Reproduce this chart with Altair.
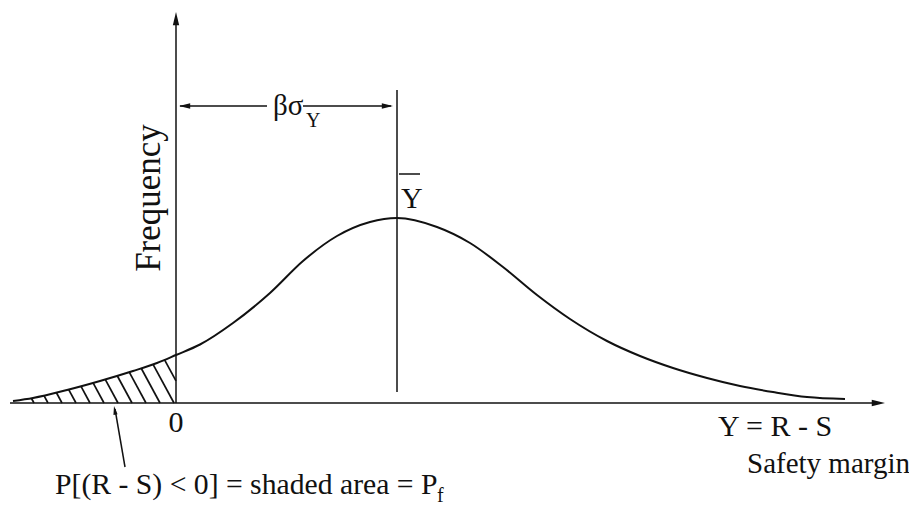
import altair as alt
import pandas as pd
import numpy as np

# ---- data (x: safety margin Y = R - S, y: frequency) ----
curve_x = [-1.63, -1.43, -1.09, -0.76, -0.43, -0.19, 0.00, 0.24, 0.57, 0.94, 1.27, 1.61, 1.94,
           2.21, 2.61, 2.94, 3.27, 3.61, 3.94, 4.31, 4.64, 4.97, 5.31, 5.64, 5.97, 6.31, 6.69]
curve_y = [0.02, 0.05, 0.13, 0.22, 0.32, 0.40, 0.48, 0.585, 0.80, 1.10, 1.42, 1.67, 1.81,
           1.85, 1.76, 1.60, 1.36, 1.08, 0.84, 0.62, 0.47, 0.35, 0.25, 0.17, 0.11, 0.06, 0.04]
mean_y = 2.21          # Y-bar
x_axis_end = 7.09
y_axis_end = 3.91
dim_level = 2.97       # level of the beta*sigma dimension line

# ---- scales ----
XS = alt.Scale(domain=[-1.68, 7.33], nice=False, zero=False)
YS = alt.Scale(domain=[-1.08, 3.95], nice=False, zero=False)
INK = "#111111"
FONT = "Liberation Serif"

def X(f="x"):
    return alt.X(f + ":Q", scale=XS, axis=None)

def Y(f="y"):
    return alt.Y(f + ":Q", scale=YS, axis=None)

# ---- curve ----
curve_df = pd.DataFrame({"x": curve_x, "y": curve_y})
curve = alt.Chart(curve_df).mark_line(interpolate="monotone", color=INK, strokeWidth=2).encode(
    x=X(), y=Y())

# ---- hatching of the failure region (Y < 0), derived from the curve ----
slope = 1.85
spacing = 0.14
cx = np.array(curve_x)
cy = np.array(curve_y)
grid = np.linspace(cx[0], 0.0, 3000)
fgrid = np.interp(grid, cx, cy)
h_at0 = float(np.interp(0.0, cx, cy))
rows = []
for c in np.arange(1.94, -1.5, -spacing):
    if c <= 0:
        xb, yb = c, 0.0
    else:
        xb, yb = 0.0, c * slope
        if yb >= h_at0:
            continue
    mask = grid <= xb
    g = grid[mask][::-1]
    fg = fgrid[mask][::-1]
    line_h = yb + slope * (xb - g)
    hit = np.where(line_h >= fg)[0]
    if len(hit) == 0:
        continue
    i = hit[0]
    rows.append({"x": xb, "y": yb, "x2": float(g[i]), "y2": float(fg[i])})
hatch_df = pd.DataFrame(rows)
hatch = alt.Chart(hatch_df).mark_rule(color=INK, strokeWidth=1.7).encode(
    x=X(), y=Y(), x2="x2:Q", y2="y2:Q")

# ---- construction lines ----
lines_df = pd.DataFrame([
    {"x": -1.66, "y": 0.0, "x2": x_axis_end - 0.05, "y2": 0.0},          # x axis
    {"x": 0.0, "y": 0.0, "x2": 0.0, "y2": y_axis_end - 0.05},            # y axis
    {"x": mean_y, "y": 0.11, "x2": mean_y, "y2": 3.13},                   # mean line
    {"x": 0.04, "y": dim_level, "x2": 0.91, "y2": dim_level},             # dimension, left part
    {"x": 1.27, "y": dim_level, "x2": mean_y - 0.06, "y2": dim_level},    # dimension, right part
    {"x": -0.51, "y": -0.64, "x2": -0.61, "y2": -0.06},                   # pointer to shaded area
    {"x": 2.23, "y": 2.29, "x2": 2.44, "y2": 2.29},                       # bar over Y
])
lines = alt.Chart(lines_df).mark_rule(color=INK, strokeWidth=1.5).encode(
    x=X(), y=Y(), x2="x2:Q", y2="y2:Q")

# ---- arrow heads ----
RIGHT = "M0,0L-1,-0.24L-1,0.24Z"
LEFT = "M0,0L1,-0.24L1,0.24Z"
UP = "M0,0L-0.24,1L0.24,1Z"
heads_df = pd.DataFrame([
    {"x": x_axis_end, "y": 0.0, "shape": RIGHT, "angle": 0, "size": 700},
    {"x": 0.0, "y": y_axis_end, "shape": UP, "angle": 0, "size": 700},
    {"x": 0.03, "y": dim_level, "shape": LEFT, "angle": 0, "size": 500},
    {"x": mean_y - 0.04, "y": dim_level, "shape": RIGHT, "angle": 0, "size": 500},
    {"x": -0.62, "y": -0.03, "shape": UP, "angle": 350, "size": 300},
])
heads = alt.Chart(heads_df).mark_point(filled=True, color=INK, opacity=1, strokeWidth=0).encode(
    x=X(), y=Y(),
    shape=alt.Shape("shape:N", scale=None),
    angle=alt.Angle("angle:Q", scale=None),
    size=alt.Size("size:Q", scale=None))

# ---- texts ----
left_txt_df = pd.DataFrame([
    {"x": 5.42, "y": -0.33, "t": "Y = R - S", "s": 30},
    {"x": 5.71, "y": -0.70, "t": "Safety margin", "s": 29},
    {"x": -1.21, "y": -0.91, "t": "P[(R - S) < 0] = shaded area = P", "s": 29.7},
    {"x": 2.61, "y": -0.99, "t": "f", "s": 20},
    {"x": 0.97, "y": 2.88, "t": "βσ", "s": 29},
    {"x": 1.30, "y": 2.76, "t": "Y", "s": 20},
    {"x": 2.25, "y": 1.95, "t": "Y", "s": 30},
])
left_txt = alt.Chart(left_txt_df).mark_text(
    align="left", baseline="alphabetic", font=FONT, color=INK).encode(
    x=X(), y=Y(), text="t:N", size=alt.Size("s:Q", scale=None))

center_txt_df = pd.DataFrame([
    {"x": 0.0, "y": -0.29, "t": "0", "s": 30, "a": 0},
    {"x": -0.16, "y": 2.05, "t": "Frequency", "s": 35, "a": 270},
])
center_txt = alt.Chart(center_txt_df).mark_text(
    align="center", baseline="alphabetic", font=FONT, color=INK).encode(
    x=X(), y=Y(), text="t:N",
    size=alt.Size("s:Q", scale=None),
    angle=alt.Angle("a:Q", scale=None))

chart = alt.layer(hatch, lines, curve, heads, left_txt, center_txt).properties(
    width=901, height=503, padding=0, autosize="none", background="white"
).configure_view(stroke=None)

chart.save("out.html", embed_options={"renderer": "svg", "actions": False})
